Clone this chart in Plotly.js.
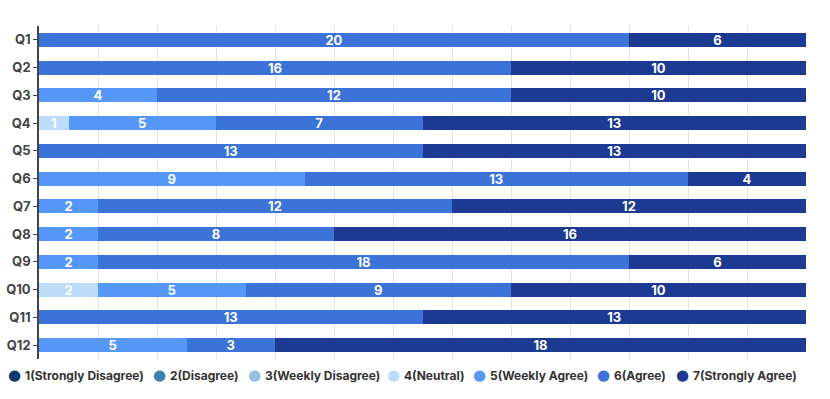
<!DOCTYPE html>
<html>
<head>
<meta charset="utf-8">
<script src="https://cdn.plot.ly/plotly-3.0.1.min.js"></script>
<style>
  html, body { margin: 0; padding: 0; background: #fff; }
  #chart { width: 830px; height: 399px; }
</style>
</head>
<body>
<div id="chart"></div>
<script>
var questions = ['Q1', 'Q2', 'Q3', 'Q4', 'Q5', 'Q6', 'Q7', 'Q8', 'Q9', 'Q10', 'Q11', 'Q12'];

var levelNames = ['1(Strongly Disagree)', '2(Disagree)', '3(Weekly Disagree)', '4(Neutral)',
                  '5(Weekly Agree)', '6(Agree)', '7(Strongly Agree)'];
var levelColors = ['#0d3b6e', '#3f7fb0', '#92c1e3', '#bddcfb', '#5598fa', '#3c73d9', '#1d3a92'];

var stronglyDisagree = [0, 0, 0, 0, 0, 0, 0, 0, 0, 0, 0, 0];
var disagree         = [0, 0, 0, 0, 0, 0, 0, 0, 0, 0, 0, 0];
var weeklyDisagree   = [0, 0, 0, 0, 0, 0, 0, 0, 0, 0, 0, 0];
var neutral          = [0, 0, 0, 1, 0, 0, 0, 0, 0, 2, 0, 0];
var weeklyAgree      = [0, 0, 4, 5, 0, 9, 2, 2, 2, 5, 0, 5];
var agree            = [20, 16, 12, 7, 13, 13, 12, 8, 18, 9, 13, 3];
var stronglyAgree    = [6, 10, 10, 13, 13, 4, 12, 16, 6, 10, 13, 18];

var series = [stronglyDisagree, disagree, weeklyDisagree, neutral, weeklyAgree, agree, stronglyAgree];

var data = [];

// stacked bars
series.forEach(function (vals, i) {
    data.push({
        type: 'bar',
        orientation: 'h',
        y: questions,
        x: vals,
        name: levelNames[i],
        marker: { color: levelColors[i] },
        text: vals.map(function (v) { return v ? String(v) : ''; }),
        textposition: 'inside',
        textangle: 0,
        insidetextanchor: 'middle',
        constraintext: 'none',
        textfont: { family: 'Inter, sans-serif', size: 13, color: '#ffffff', weight: 700 },
        hoverinfo: 'x+name',
        showlegend: false
    });
});

// legend drawn as annotations so it stays on one row with round dots
// plot area spans px 39..806 horizontally, 26..359 vertically
var plotLeft = 39, plotW = 767, plotBottom = 359, plotH = 333;
var dotPx = [14, 159, 254, 393, 479, 603, 682];
var legendRowPx = 375;
var legY = (plotBottom - legendRowPx) / plotH;

var annotations = [];
levelNames.forEach(function (name, i) {
    annotations.push({
        xref: 'paper', yref: 'paper',
        x: (dotPx[i] - plotLeft) / plotW, y: legY,
        xanchor: 'center', yanchor: 'middle',
        text: '●',
        showarrow: false,
        font: { family: 'DejaVu Sans, sans-serif', size: 15, color: levelColors[i] }
    });
    annotations.push({
        xref: 'paper', yref: 'paper',
        x: (dotPx[i] + 9 - plotLeft) / plotW, y: legY,
        xanchor: 'left', yanchor: 'middle',
        text: name,
        showarrow: false,
        font: { family: 'Inter, sans-serif', size: 12, color: '#333333', weight: 700 }
    });
});

var layout = {
    width: 830,
    height: 399,
    barmode: 'stack',
    bargap: 0.5,
    margin: { l: 39, r: 24, t: 26, b: 40 },
    paper_bgcolor: '#ffffff',
    plot_bgcolor: '#ffffff',
    font: { family: 'Inter, sans-serif', color: '#444444' },
    xaxis: {
        range: [0, 26],
        dtick: 2,
        showticklabels: false,
        showgrid: true,
        gridcolor: '#e3e3e3',
        gridwidth: 1,
        zeroline: false,
        showline: false
    },
    yaxis: {
        autorange: 'reversed',
        showline: true,
        linecolor: '#444444',
        linewidth: 1.5,
        ticks: 'outside',
        ticklen: 4,
        tickcolor: '#444444',
        tickfont: { family: 'Inter, sans-serif', size: 13, color: '#444444', weight: 700 },
        showgrid: false
    },
    annotations: annotations,
    showlegend: false
};

Plotly.newPlot('chart', data, layout, { displayModeBar: false });
</script>
</body>
</html>
